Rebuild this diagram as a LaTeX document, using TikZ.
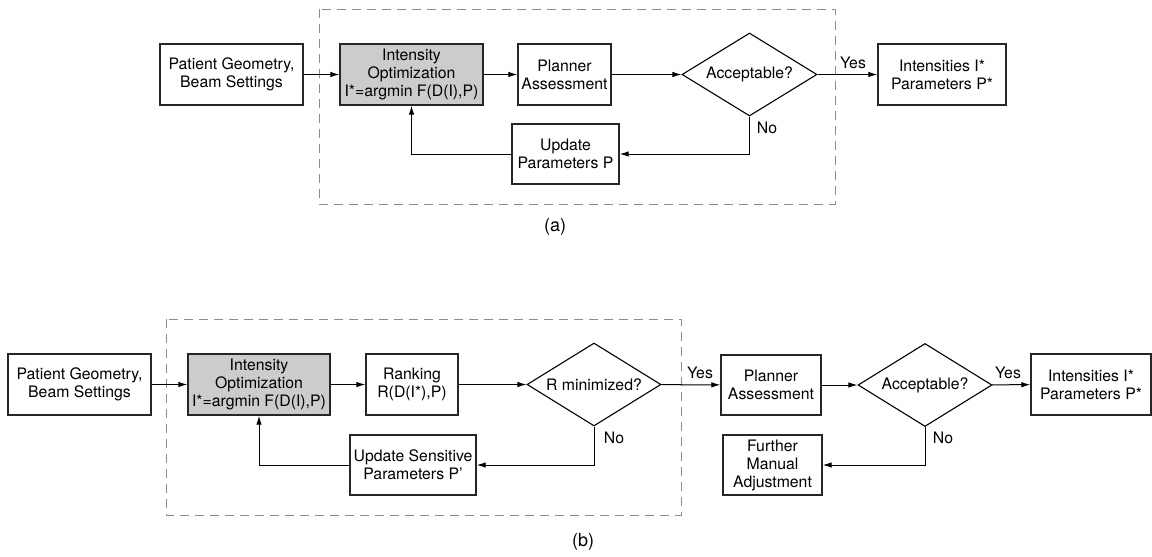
\documentclass[tikz,border=0pt]{standalone}
\usepackage{fontspec}
\setmainfont{TeX Gyre Heros}
\usetikzlibrary{arrows.meta,shapes.geometric}
\begin{document}
\begin{tikzpicture}[x=1pt,y=-1pt,
  every node/.style={font=\fontsize{15.8}{18}\selectfont},
  box/.style={draw=black!85,line width=1.3pt,align=center,inner sep=0pt},
  greybox/.style={box,fill=black!20},
  decision/.style={draw=black,line width=1.1pt,shape=diamond,aspect=1.62,inner sep=0pt,align=center},
  arr/.style={line width=1pt,-{Latex[length=9pt,width=5.5pt]}},
  frame/.style={draw=black!45,line width=1pt,dash pattern=on 9pt off 6pt},
  lbl/.style={inner sep=0pt},
  caption/.style={inner sep=0pt,font=\fontsize{18}{20}\selectfont}]
\useasboundingbox (0,0) rectangle (1152,557);
% ---------- (a) ----------
\draw[frame] (319,9) rectangle (835,204);
\node[box,minimum width=143pt,minimum height=61pt] (pa) at (231.5,74.5) {Patient Geometry,\\Beam Settings};
\node[greybox,minimum width=143pt,minimum height=61pt] (ioa) at (411.5,74.5) {Intensity\\Optimization\\I*=argmin F(D(I),P)};
\node[box,minimum width=93pt,minimum height=61pt] (pla) at (564.5,74.5) {Planner\\Assessment};
\node[decision,minimum width=135pt,minimum height=83pt] (acca) at (749.5,74.5) {Acceptable?};
\node[box,minimum width=128pt,minimum height=61pt] (outa) at (942,74.5) {Intensities I*\\Parameters P*};
\node[box,minimum width=107pt,minimum height=60pt] (upa) at (565.5,154) {Update\\Parameters P};
\draw[arr] (pa) -- (ioa);
\draw[arr] (ioa) -- (pla);
\draw[arr] (pla) -- (acca);
\draw[arr] (acca) -- (outa);
\draw[arr] (acca.south) |- (upa.east);
\draw[arr] (upa.west) -| (ioa.south);
\node[lbl] (ya) at (853,63) {Yes};
\node[lbl] (na) at (767,128) {No};
\node[caption] (capa) at (555,227) {(a)};
% ---------- (b) ----------
\draw[frame] (166,319) rectangle (681,515);
\node[box,minimum width=143pt,minimum height=61pt] (pb) at (79.5,384.5) {Patient Geometry,\\Beam Settings};
\node[greybox,minimum width=142pt,minimum height=61pt] (iob) at (259,384.5) {Intensity\\Optimization\\I*=argmin F(D(I),P)};
\node[box,minimum width=92pt,minimum height=61pt] (rk) at (412,384.5) {Ranking\\R(D(I*),P)};
\node[decision,minimum width=134pt,minimum height=83pt] (rm) at (594,384.5) {R minimized?};
\node[box,minimum width=100pt,minimum height=60pt] (plb) at (771,385) {Planner\\Assessment};
\node[decision,minimum width=134pt,minimum height=83pt] (accb) at (925,385) {Acceptable?};
\node[box,minimum width=120pt,minimum height=61pt] (outb) at (1091,384.5) {Intensities I*\\Parameters P*};
\node[box,minimum width=126pt,minimum height=60pt] (upb) at (413,465) {Update Sensitive\\Parameters P'};
\node[box,minimum width=99pt,minimum height=60pt] (fm) at (772.5,465) {Further\\Manual\\Adjustment};
\draw[arr] (pb) -- (iob);
\draw[arr] (iob) -- (rk);
\draw[arr] (rk) -- (rm);
\draw[arr] (rm) -- (plb);
\draw[arr] (plb) -- (accb);
\draw[arr] (accb) -- (outb);
\draw[arr] (rm.south) |- (upb.east);
\draw[arr] (upb.west) -| (iob.south);
\draw[arr] (accb.south) |- (fm.east);
\node[lbl] (yb1) at (700,373) {Yes};
\node[lbl] (yb2) at (1008,373) {Yes};
\node[lbl] (nb1) at (614,438) {No};
\node[lbl] (nb2) at (943,438) {No};
\node[caption] (capb) at (583,542) {(b)};
\end{tikzpicture}
\end{document}
